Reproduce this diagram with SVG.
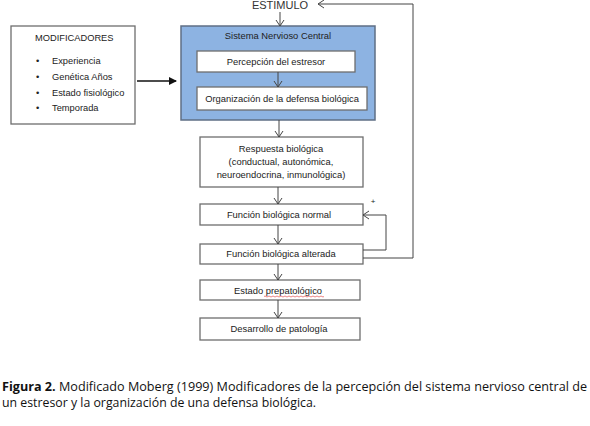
<svg xmlns="http://www.w3.org/2000/svg" width="590" height="426" viewBox="0 0 590 426">
<defs>
<style>
.box{fill:#fff;stroke:#6e6e6e;stroke-width:1.3}
.t{font-family:"Liberation Sans",Arial,sans-serif;font-size:9.4px;fill:#222;text-anchor:middle}
.tl{font-family:"Liberation Sans",Arial,sans-serif;font-size:9.3px;fill:#222}
.c{fill:none;stroke:#444;stroke-width:1}
.cap{font-family:"Open Sans","Liberation Sans",sans-serif;font-size:12px;fill:#111}
</style>
<marker id="a" markerWidth="10" markerHeight="10" refX="8" refY="5" orient="auto" markerUnits="userSpaceOnUse">
<path d="M2,1 L8,5 L2,9" fill="none" stroke="#444" stroke-width="1"/>
</marker>
<marker id="b" markerWidth="10" markerHeight="10" refX="8" refY="5" orient="auto" markerUnits="userSpaceOnUse">
<path d="M1,1 L9,5 L1,9 Z" fill="#111"/>
</marker>
</defs>
<rect width="590" height="426" fill="#fff"/>

<g id="estimulo"><text x="280" y="9" style="font-family:'Liberation Sans',Arial,sans-serif;font-size:11px;fill:#333;text-anchor:middle">ESTIMULO</text></g>

<g id="modificadores">
<rect class="box" x="11" y="26" width="124" height="98"/>
<text class="tl" x="35" y="41">MODIFICADORES</text>
<text class="tl" x="36" y="64">•</text><text class="tl" x="52" y="64">Experiencia</text>
<text class="tl" x="36" y="80">•</text><text class="tl" x="52" y="80">Genética Años</text>
<text class="tl" x="36" y="96">•</text><text class="tl" x="52" y="96">Estado fisiológico</text>
<text class="tl" x="36" y="111">•</text><text class="tl" x="52" y="111">Temporada</text>
</g>

<g id="snc">
<rect x="181" y="26" width="194" height="94" fill="#8db3e2" stroke="#5f6f85" stroke-width="1.5"/>
<text class="t" x="278" y="39">Sistema Nervioso Central</text>
</g>
<g id="percepcion">
<rect class="box" x="197" y="51" width="158" height="21"/>
<text class="t" x="276" y="65">Percepción del estresor</text>
</g>
<g id="organizacion">
<rect class="box" x="197" y="87" width="170" height="23"/>
<text class="t" x="282" y="102">Organización de la defensa biológica</text>
</g>
<g id="respuesta">
<rect class="box" x="200" y="137" width="163" height="50"/>
<text class="t" x="281" y="152">Respuesta biológica</text>
<text class="t" x="281" y="165">(conductual, autonómica,</text>
<text class="t" x="281" y="178">neuroendocrina, inmunológica)</text>
</g>
<g id="normal">
<rect class="box" x="200" y="204" width="163" height="21"/>
<text class="t" x="279" y="218">Función biológica normal</text>
</g>
<g id="alterada">
<rect class="box" x="200" y="244" width="163" height="20"/>
<text class="t" x="281" y="257">Función biológica alterada</text>
</g>
<g id="prepatologico">
<rect class="box" x="200" y="280" width="160" height="20"/>
<text class="t" x="278" y="294">Estado prepatológico</text>
<path d="M264,296.5 q1,-1 2,0 t2,0 t2,0 t2,0 t2,0 t2,0 t2,0 t2,0 t2,0 t2,0 t2,0 t2,0 t2,0 t2,0 t2,0 t2,0 t2,0 t2,0 t2,0 t2,0 t2,0 t2,0 t2,0 t2,0 t2,0 t2,0 t2,0 t2,0 t2,0 t2,0" fill="none" stroke="#d33" stroke-width="0.6"/>
</g>
<g id="desarrollo">
<rect class="box" x="200" y="318" width="160" height="22"/>
<text class="t" x="279" y="332">Desarrollo de patología</text>
</g>

<g id="connectors">
<line class="c" x1="280" y1="12" x2="280" y2="26" marker-end="url(#a)"/>
<line x1="137" y1="81" x2="176" y2="81" stroke="#111" stroke-width="1.5" marker-end="url(#b)"/>
<line class="c" x1="278" y1="72" x2="278" y2="87" marker-end="url(#a)"/>
<line class="c" x1="279" y1="120" x2="279" y2="137" marker-end="url(#a)"/>
<line class="c" x1="278" y1="187" x2="278" y2="204" marker-end="url(#a)"/>
<line class="c" x1="278" y1="225" x2="278" y2="244" marker-end="url(#a)"/>
<line class="c" x1="278" y1="264" x2="278" y2="280" marker-end="url(#a)"/>
<line class="c" x1="278" y1="300" x2="278" y2="318" marker-end="url(#a)"/>
<polyline class="c" points="363,250 386,250 386,215 363,215" marker-end="url(#a)"/>
<polyline class="c" points="363,258 413,258 413,4 318,4" marker-end="url(#a)"/>
<text x="373" y="204" style="font-family:'Liberation Sans',Arial,sans-serif;font-size:8px;fill:#222;text-anchor:middle">+</text>
</g>

<g id="caption">
<text class="cap" x="2" y="391" textLength="585" lengthAdjust="spacingAndGlyphs"><tspan font-weight="bold">Figura 2.</tspan> Modificado Moberg (1999) Modificadores de la percepción del sistema nervioso central de</text>
<text class="cap" x="2" y="407" textLength="314" lengthAdjust="spacingAndGlyphs">un estresor y la organización de una defensa biológica.</text>
</g>
</svg>
